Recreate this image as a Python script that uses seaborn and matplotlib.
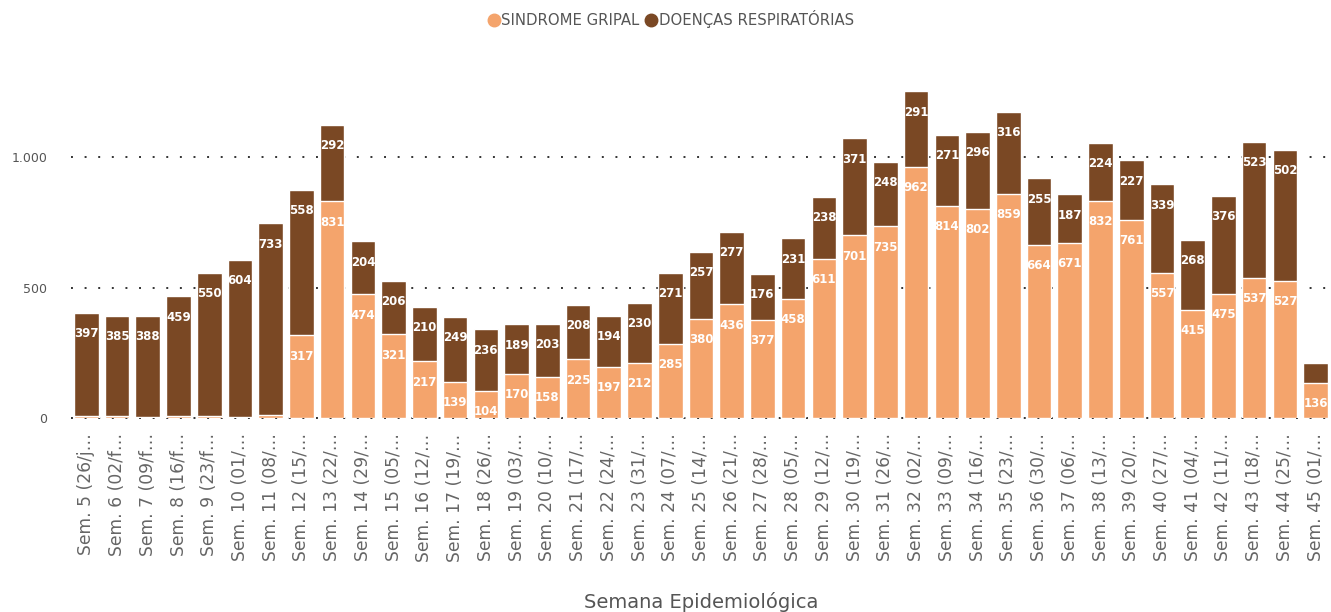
import matplotlib
matplotlib.use("Agg")
import matplotlib.pyplot as plt
import seaborn as sns
import pandas as pd
import numpy as np
from matplotlib.lines import Line2D

weeks = ["Sem. 5 (26/j…", "Sem. 6 (02/f…", "Sem. 7 (09/f…", "Sem. 8 (16/f…", "Sem. 9 (23/f…",
         "Sem. 10 (01/…", "Sem. 11 (08/…", "Sem. 12 (15/…", "Sem. 13 (22/…", "Sem. 14 (29/…",
         "Sem. 15 (05/…", "Sem. 16 (12/…", "Sem. 17 (19/…", "Sem. 18 (26/…", "Sem. 19 (03/…",
         "Sem. 20 (10/…", "Sem. 21 (17/…", "Sem. 22 (24/…", "Sem. 23 (31/…", "Sem. 24 (07/…",
         "Sem. 25 (14/…", "Sem. 26 (21/…", "Sem. 27 (28/…", "Sem. 28 (05/…", "Sem. 29 (12/…",
         "Sem. 30 (19/…", "Sem. 31 (26/…", "Sem. 32 (02/…", "Sem. 33 (09/…", "Sem. 34 (16/…",
         "Sem. 35 (23/…", "Sem. 36 (30/…", "Sem. 37 (06/…", "Sem. 38 (13/…", "Sem. 39 (20/…",
         "Sem. 40 (27/…", "Sem. 41 (04/…", "Sem. 42 (11/…", "Sem. 43 (18/…", "Sem. 44 (25/…",
         "Sem. 45 (01/…"]

sindrome_gripal = [7, 7, 3, 7, 7, 2, 13, 317, 831, 474, 321, 217, 139, 104, 170, 158, 225, 197,
                   212, 285, 380, 436, 377, 458, 611, 701, 735, 962, 814, 802, 859, 664, 671,
                   832, 761, 557, 415, 475, 537, 527, 136]
doencas_resp = [397, 385, 388, 459, 550, 604, 733, 558, 292, 204, 206, 210, 249, 236, 189, 203,
                208, 194, 230, 271, 257, 277, 176, 231, 238, 371, 248, 291, 271, 296, 316, 255,
                187, 224, 227, 339, 268, 376, 523, 502, 75]

series_names = ["SINDROME GRIPAL", "DOENÇAS RESPIRATÓRIAS"]
ORANGE = "#F4A46C"
BROWN = "#7A4824"

df = pd.DataFrame({"week": weeks, "sg": sindrome_gripal, "dr": doencas_resp})
df["total"] = df["sg"] + df["dr"]

sns.set_style("white")
fig = plt.figure(figsize=(13.31, 6.12), dpi=100)
ax = fig.add_axes([0.0533, 0.317, 0.9467, 0.554])

sns.barplot(data=df, x="week", y="total", color=BROWN, saturation=1, width=0.8, ax=ax, zorder=3)
sns.barplot(data=df, x="week", y="sg", color=ORANGE, saturation=1, width=0.8, ax=ax, zorder=3)

ax.set_ylim(0, 1300)
ax.set_xlim(-0.5, len(weeks) - 0.5)
ax.set_yticks([0, 500, 1000])
ax.set_yticklabels(["0", "500", "1.000"])
for y in [0, 500, 1000]:
    ax.axhline(y, color="#333333", linestyle=(0, (1, 6)), linewidth=1.4, zorder=1, clip_on=False)
for s in ax.spines.values():
    s.set_visible(False)
ax.tick_params(axis="y", length=0, pad=17, labelsize=9, labelcolor="#555555")
ax.tick_params(axis="x", length=0, pad=11, labelsize=12.3, labelcolor="#666666", rotation=90)
for lbl in ax.get_xticklabels():
    lbl.set_verticalalignment("top")
ax.set_ylabel("")
ax.set_xlabel("Semana Epidemiológica", fontsize=14, color="#555555", labelpad=22)

# data labels
for i, (sg, dr) in enumerate(zip(sindrome_gripal, doencas_resp)):
    if sg >= 100:
        ax.annotate(str(sg), (i, sg), xytext=(0, -15), textcoords="offset points",
                    ha="center", va="center", color="white", fontsize=8.5, fontweight="bold",
                    zorder=5)
    if dr >= 100:
        ax.annotate(str(dr), (i, sg + dr), xytext=(0, -15), textcoords="offset points",
                    ha="center", va="center", color="white", fontsize=8.5, fontweight="bold",
                    zorder=5)

handles = [Line2D([0], [0], marker="o", linestyle="", markersize=9, markerfacecolor=c,
                  markeredgecolor=c) for c in (ORANGE, BROWN)]
fig.legend(handles, series_names, loc="center left", bbox_to_anchor=(0.361, 0.969),
           ncol=2, frameon=False, fontsize=10.7, handletextpad=0.0, columnspacing=0.3,
           labelcolor="#555555", borderaxespad=0, handlelength=1.0)

fig.savefig("out.png", dpi=100)
